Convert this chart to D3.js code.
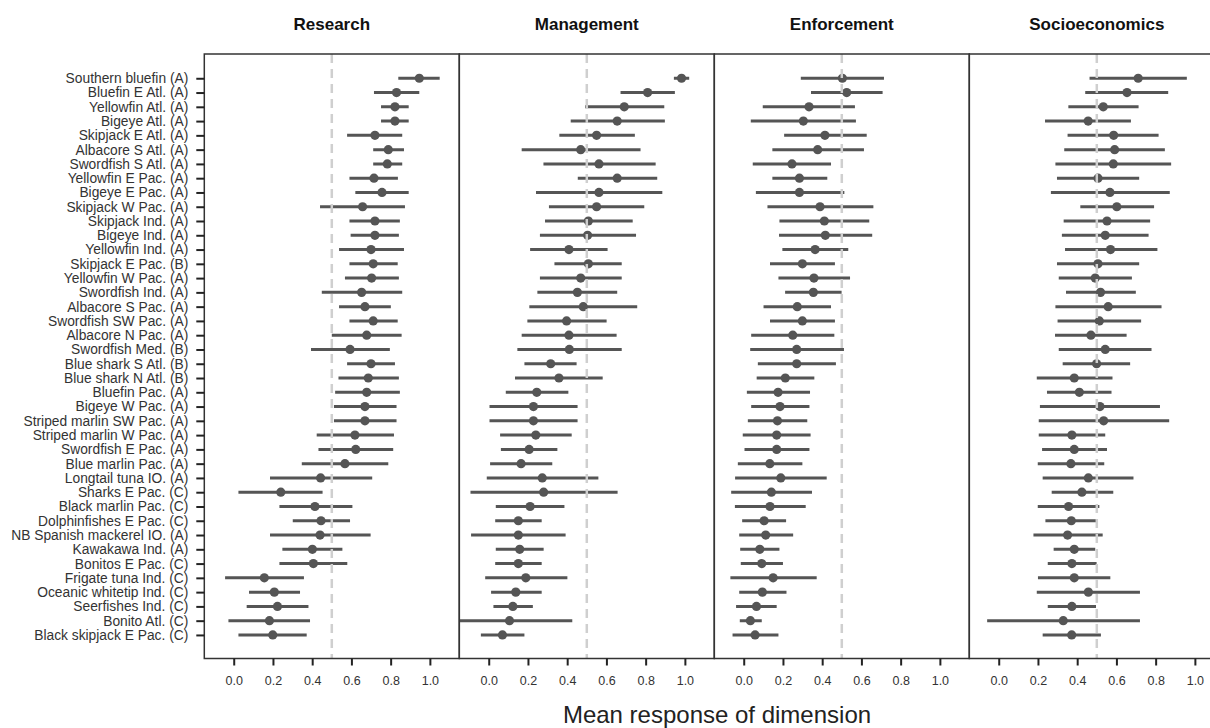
<!DOCTYPE html>
<html>
<head>
<meta charset="utf-8">
<script src="https://cdn.jsdelivr.net/npm/d3@7"></script>
<style>
  body { margin: 0; background: #fff; }
  svg { font-family: "Liberation Sans", Arial, sans-serif; }
</style>
</head>
<body>
<div id="chart"></div>
<script>
// stocks, top to bottom
const species = [
  "Southern bluefin (A)", "Bluefin E Atl. (A)", "Yellowfin Atl. (A)", "Bigeye Atl. (A)",
  "Skipjack E Atl. (A)", "Albacore S Atl. (A)", "Swordfish S Atl. (A)", "Yellowfin E Pac. (A)",
  "Bigeye E Pac. (A)", "Skipjack W Pac. (A)", "Skipjack Ind. (A)", "Bigeye Ind. (A)",
  "Yellowfin Ind. (A)", "Skipjack E Pac. (B)", "Yellowfin W Pac. (A)", "Swordfish Ind. (A)",
  "Albacore S Pac. (A)", "Swordfish SW Pac. (A)", "Albacore N Pac. (A)", "Swordfish Med. (B)",
  "Blue shark S Atl. (B)", "Blue shark N Atl. (B)", "Bluefin Pac. (A)", "Bigeye W Pac. (A)",
  "Striped marlin SW Pac. (A)", "Striped marlin W Pac. (A)", "Swordfish E Pac. (A)", "Blue marlin Pac. (A)",
  "Longtail tuna IO. (A)", "Sharks E Pac. (C)", "Black marlin Pac. (C)", "Dolphinfishes E Pac. (C)",
  "NB Spanish mackerel IO. (A)", "Kawakawa Ind. (A)", "Bonitos E Pac. (C)", "Frigate tuna Ind. (C)",
  "Oceanic whitetip Ind. (C)", "Seerfishes Ind. (C)", "Bonito Atl. (C)", "Black skipjack E Pac. (C)"
];

const dimensions = ["Research", "Management", "Enforcement", "Socioeconomics"];
const xTicks = [0, 0.2, 0.4, 0.6, 0.8, 1.0];

// Research
const researchMean = [0.946, 0.830, 0.822, 0.822, 0.720, 0.788, 0.783, 0.715, 0.756, 0.657,
  0.720, 0.720, 0.700, 0.711, 0.703, 0.652, 0.669, 0.711, 0.678, 0.593,
  0.700, 0.686, 0.678, 0.669, 0.669, 0.618, 0.622, 0.567, 0.443, 0.240,
  0.414, 0.445, 0.440, 0.401, 0.406, 0.156, 0.207, 0.223, 0.182, 0.199];
const researchLo = [0.839, 0.715, 0.751, 0.751, 0.578, 0.711, 0.711, 0.590, 0.620, 0.440,
  0.590, 0.596, 0.537, 0.590, 0.567, 0.449, 0.537, 0.590, 0.500, 0.394,
  0.578, 0.534, 0.517, 0.511, 0.511, 0.423, 0.432, 0.347, 0.185, 0.024,
  0.233, 0.301, 0.185, 0.248, 0.233, -0.044, 0.078, 0.066, -0.027, 0.024];
const researchHi = [1.050, 0.946, 0.892, 0.892, 0.859, 0.868, 0.859, 0.837, 0.892, 0.873,
  0.847, 0.842, 0.868, 0.836, 0.842, 0.859, 0.801, 0.836, 0.856, 0.796,
  0.822, 0.842, 0.847, 0.830, 0.830, 0.817, 0.813, 0.788, 0.706, 0.453,
  0.605, 0.593, 0.698, 0.554, 0.579, 0.358, 0.338, 0.381, 0.389, 0.372];

// Management
const managementMean = [0.983, 0.810, 0.691, 0.655, 0.550, 0.469, 0.562, 0.655, 0.562, 0.550,
  0.508, 0.504, 0.409, 0.508, 0.469, 0.452, 0.482, 0.397, 0.409, 0.411,
  0.316, 0.358, 0.245, 0.228, 0.228, 0.240, 0.206, 0.165, 0.273, 0.280,
  0.211, 0.151, 0.151, 0.158, 0.151, 0.189, 0.138, 0.123, 0.106, 0.070];
const managementLo = [0.944, 0.672, 0.491, 0.418, 0.360, 0.168, 0.279, 0.454, 0.241, 0.307,
  0.287, 0.261, 0.211, 0.335, 0.261, 0.248, 0.207, 0.197, 0.168, 0.146,
  0.182, 0.134, 0.087, 0.004, 0.004, 0.058, 0.062, 0.007, -0.010, -0.093,
  0.036, 0.033, -0.090, 0.036, 0.033, -0.018, 0.012, 0.024, -0.200, -0.040];
const managementHi = [1.022, 0.949, 0.895, 0.898, 0.745, 0.774, 0.851, 0.859, 0.885, 0.793,
  0.734, 0.751, 0.606, 0.678, 0.678, 0.655, 0.757, 0.601, 0.652, 0.678,
  0.448, 0.581, 0.406, 0.453, 0.453, 0.423, 0.350, 0.324, 0.559, 0.657,
  0.386, 0.270, 0.392, 0.280, 0.270, 0.401, 0.270, 0.225, 0.426, 0.182];

// Enforcement
const enforcementMean = [0.503, 0.525, 0.333, 0.304, 0.414, 0.377, 0.246, 0.284, 0.284, 0.389,
  0.411, 0.416, 0.364, 0.299, 0.358, 0.355, 0.273, 0.299, 0.250, 0.270,
  0.270, 0.212, 0.175, 0.185, 0.172, 0.168, 0.168, 0.133, 0.189, 0.141,
  0.134, 0.104, 0.112, 0.082, 0.092, 0.150, 0.095, 0.065, 0.034, 0.058];
const enforcementLo = [0.291, 0.343, 0.097, 0.036, 0.206, 0.146, 0.046, 0.146, 0.062, 0.121,
  0.182, 0.180, 0.197, 0.134, 0.177, 0.211, 0.101, 0.134, 0.038, 0.033,
  0.072, 0.066, 0.016, 0.038, 0.021, -0.005, 0.004, -0.030, -0.044, -0.064,
  -0.045, -0.008, -0.023, -0.018, -0.015, -0.068, -0.023, -0.039, -0.020, -0.057];
const enforcementHi = [0.715, 0.708, 0.567, 0.572, 0.627, 0.613, 0.445, 0.426, 0.513, 0.661,
  0.640, 0.655, 0.533, 0.465, 0.542, 0.499, 0.445, 0.465, 0.462, 0.511,
  0.470, 0.360, 0.338, 0.335, 0.324, 0.341, 0.335, 0.299, 0.423, 0.348,
  0.316, 0.216, 0.252, 0.182, 0.200, 0.372, 0.218, 0.168, 0.092, 0.177];

// Socioeconomics
const socioMean = [0.711, 0.654, 0.533, 0.456, 0.586, 0.591, 0.584, 0.506, 0.567, 0.602,
  0.552, 0.543, 0.570, 0.506, 0.492, 0.519, 0.558, 0.513, 0.470, 0.543,
  0.499, 0.385, 0.411, 0.516, 0.535, 0.373, 0.385, 0.368, 0.457, 0.424,
  0.356, 0.370, 0.351, 0.385, 0.373, 0.385, 0.457, 0.373, 0.329, 0.372];
const socioLo = [0.463, 0.441, 0.355, 0.236, 0.351, 0.334, 0.289, 0.297, 0.266, 0.416,
  0.331, 0.322, 0.338, 0.297, 0.306, 0.343, 0.289, 0.300, 0.287, 0.306,
  0.326, 0.194, 0.246, 0.210, 0.204, 0.204, 0.221, 0.199, 0.224, 0.270,
  0.199, 0.238, 0.177, 0.280, 0.250, 0.200, 0.194, 0.250, -0.059, 0.224];
const socioHi = [0.959, 0.864, 0.713, 0.674, 0.815, 0.847, 0.879, 0.716, 0.872, 0.792,
  0.772, 0.764, 0.809, 0.716, 0.679, 0.699, 0.830, 0.726, 0.652, 0.779,
  0.670, 0.580, 0.575, 0.822, 0.869, 0.543, 0.552, 0.538, 0.687, 0.584,
  0.513, 0.504, 0.530, 0.492, 0.499, 0.569, 0.720, 0.496, 0.720, 0.521];

const panelData = [
  {mean: researchMean, lo: researchLo, hi: researchHi},
  {mean: managementMean, lo: managementLo, hi: managementHi},
  {mean: enforcementMean, lo: enforcementLo, hi: enforcementHi},
  {mean: socioMean, lo: socioLo, hi: socioHi}
];

const width = 1210, height = 728;
const plotLeft = 204.3, panelW = 255, plotTop = 54, plotBottom = 658.5;
const ink = "#555555";

const svg = d3.select("#chart").append("svg")
  .attr("width", width)
  .attr("height", height);

const x = d3.scaleLinear().domain([-0.15, 1.15]).range([0, panelW]);
const y = d3.scaleLinear().domain([-1.7, 40.65]).range([plotTop, plotBottom]);

dimensions.forEach((dim, p) => {
  const d = panelData[p];
  const g = svg.append("g").attr("transform", `translate(${plotLeft + p * panelW},0)`);

  g.append("clipPath").attr("id", "clip" + p)
    .append("rect").attr("x", 0).attr("y", plotTop).attr("width", panelW).attr("height", plotBottom - plotTop);

  const body = g.append("g").attr("clip-path", `url(#clip${p})`);

  // intervals
  body.selectAll("line.ci")
    .data(species)
    .join("line")
    .attr("class", "ci")
    .attr("x1", (s, i) => x(d.lo[i]))
    .attr("x2", (s, i) => x(d.hi[i]))
    .attr("y1", (s, i) => y(i))
    .attr("y2", (s, i) => y(i))
    .attr("stroke", ink)
    .attr("stroke-width", 3);

  // means
  body.selectAll("circle")
    .data(species)
    .join("circle")
    .attr("cx", (s, i) => x(d.mean[i]))
    .attr("cy", (s, i) => y(i))
    .attr("r", 4.6)
    .attr("fill", ink);

  // reference line at 0.5, drawn on top
  body.append("line")
    .attr("x1", x(0.5)).attr("x2", x(0.5))
    .attr("y1", plotTop).attr("y2", plotBottom)
    .attr("stroke", "#cfcfcf")
    .attr("stroke-width", 2.5)
    .attr("stroke-dasharray", "9,6");

  // frame
  g.append("rect")
    .attr("x", 0).attr("y", plotTop)
    .attr("width", panelW).attr("height", plotBottom - plotTop)
    .attr("fill", "none")
    .attr("stroke", "#333")
    .attr("stroke-width", 1.5);

  // x axis
  const xAxis = g.append("g")
    .attr("transform", `translate(0,${plotBottom})`)
    .call(d3.axisBottom(x).tickValues(xTicks).tickFormat(d3.format(".1f")).tickSize(7).tickPadding(11));
  xAxis.select(".domain").remove();
  xAxis.selectAll(".tick line").attr("stroke", "#222").attr("stroke-width", 2);
  xAxis.selectAll(".tick text").attr("fill", "#333").style("font-size", "12.5px")
    .style("font-family", '"Liberation Sans", Arial, sans-serif');

  // panel title
  g.append("text")
    .attr("x", panelW / 2)
    .attr("y", 29.5)
    .attr("text-anchor", "middle")
    .attr("font-weight", "bold")
    .attr("font-size", 17)
    .attr("fill", "#111")
    .text(dim);
});

// y axis labels
const yAxis = svg.append("g")
  .attr("transform", `translate(${plotLeft},0)`)
  .call(d3.axisLeft(y).tickValues(d3.range(species.length)).tickFormat(i => species[i]).tickSize(8).tickPadding(8));
yAxis.select(".domain").remove();
yAxis.selectAll(".tick line").attr("stroke", "#222").attr("stroke-width", 2);
yAxis.selectAll(".tick text").attr("fill", "#333").style("font-size", "13.8px")
  .style("font-family", '"Liberation Sans", Arial, sans-serif');

// shared x label
svg.append("text")
  .attr("x", 717)
  .attr("y", 723)
  .attr("text-anchor", "middle")
  .attr("font-size", 24)
  .attr("fill", "#222")
  .text("Mean response of dimension");
</script>
</body>
</html>
